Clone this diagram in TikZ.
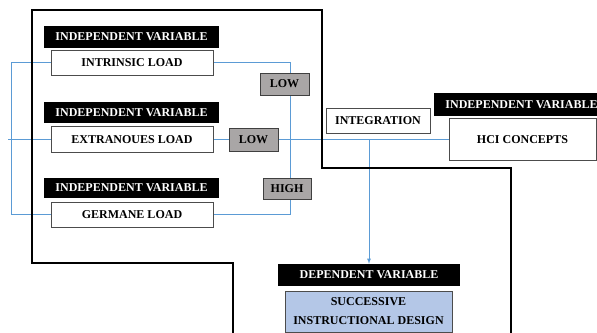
\documentclass[tikz,border=0pt]{standalone}
\usepackage{fontspec}
\setmainfont{Liberation Serif}
\usetikzlibrary{backgrounds}
\definecolor{linkblue}{HTML}{5B9BD5}
\definecolor{levelgray}{HTML}{A9A6A6}
\definecolor{depblue}{HTML}{B4C7E7}
\begin{document}
\begin{tikzpicture}[x=1pt,y=-1pt,
    varlabel/.style={fill=black,text=white,font=\fontsize{12}{14}\selectfont\bfseries,minimum width=175pt,minimum height=22pt,inner sep=0pt},
    loadbox/.style={draw=black!70,fill=white,font=\fontsize{12}{14}\selectfont\bfseries,minimum width=162pt,minimum height=25pt,inner sep=0pt},
    levelbox/.style={draw=black!75,fill=levelgray,font=\fontsize{12}{14}\selectfont\bfseries,minimum width=48pt,minimum height=22pt,inner sep=0pt},
    link/.style={draw=linkblue,line width=0.8pt}]
    \useasboundingbox (0,0) rectangle (597,332);
    % outline
    \draw[line width=1.5pt] (233,334) -- (233,263) -- (32,263) -- (32,10) -- (322,10) -- (322,168) -- (511,168) -- (511,334);
    % independent variables
    \node[varlabel] (iv1) at (131.5,37) {INDEPENDENT VARIABLE};
    \node[loadbox] (intr) at (132,62.5) {INTRINSIC LOAD};
    \node[varlabel,minimum height=21pt] (iv2) at (131.5,112.5) {INDEPENDENT VARIABLE};
    \node[loadbox,minimum height=26pt] (extr) at (132,139.5) {EXTRANOUES LOAD};
    \node[varlabel,minimum height=20pt] (iv3) at (131.5,188) {INDEPENDENT VARIABLE};
    \node[loadbox] (germ) at (132,214.5) {GERMANE LOAD};
    % levels
    \node[levelbox,minimum width=49pt] (low1) at (284.5,84) {LOW};
    \node[levelbox,minimum width=49pt,minimum height=23pt] (low2) at (253.5,139.5) {LOW};
    \node[levelbox,minimum height=21pt] (high) at (287,188.5) {HIGH};
    % right side
    \node[loadbox,minimum width=104pt] (integ) at (378,120.5) {INTEGRATION};
    \node[varlabel,minimum height=23pt] (iv4) at (521.5,104.5) {INDEPENDENT VARIABLE};
    \node[loadbox,minimum width=147pt,minimum height=42pt] (hci) at (522.5,139.5) {HCI CONCEPTS};
    \node[varlabel,minimum width=182pt] (dv) at (369,275) {DEPENDENT VARIABLE};
    \node[loadbox,fill=depblue,minimum width=167pt,minimum height=41pt,align=center,font=\fontsize{12}{19}\selectfont\bfseries] (succ) at (368.5,311.5) {SUCCESSIVE\\INSTRUCTIONAL DESIGN};
    % connectors
    \coordinate (start) at (8,139.5);
    \coordinate (split) at (dv.north |- hci.west);
    \begin{scope}[on background layer]
      \draw[link] (intr.west) -- ++(-39,0) |- (germ.west);
      \draw[link] (intr.east) -- ++(77,0) |- (germ.east);
      \draw[link] (start) -- (extr.west);
      \draw[link] (extr.east) -- (low2.west);
      \draw[link] (low2.east) -- (hci.west);
      \draw[link,-latex] (split) -- (dv.north);
    \end{scope}
\end{tikzpicture}
\end{document}
